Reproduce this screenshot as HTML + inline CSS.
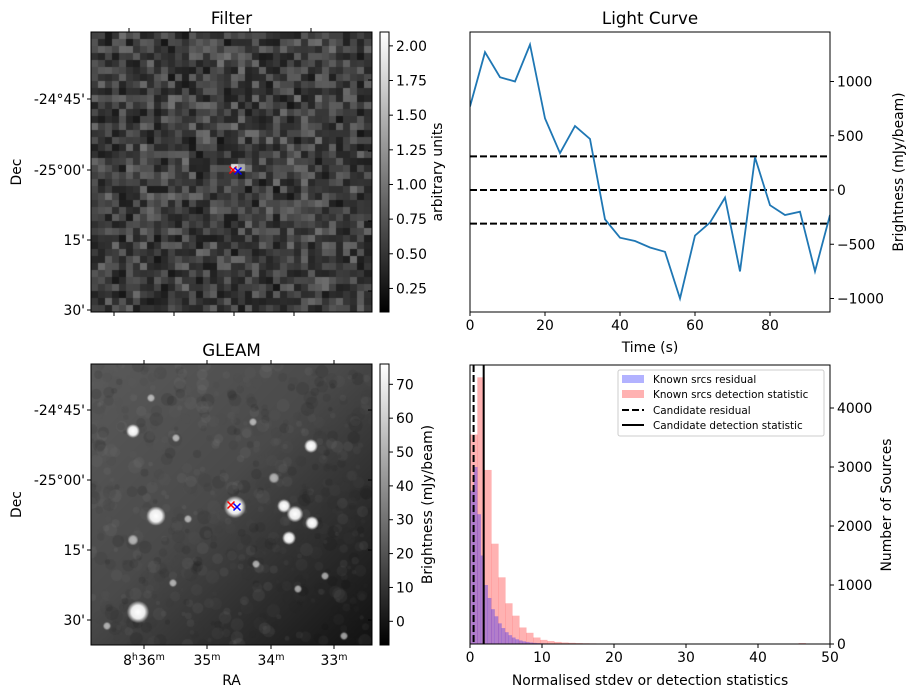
<!DOCTYPE html>
<html><head><meta charset="utf-8">
<style>
html,body{margin:0;padding:0;background:#fff;}
#wrap{position:relative;width:915px;height:699px;overflow:hidden;font-family:"DejaVu Sans","Liberation Sans",sans-serif;}
canvas{position:absolute;}
svg{position:absolute;left:0;top:0;}
text{font-family:"DejaVu Sans","Liberation Sans",sans-serif;fill:#000;}
</style></head>
<body>
<div id="wrap">
<canvas id="filterImg" width="281" height="280" style="left:91px;top:32px"></canvas>
<canvas id="gleamImg" width="281" height="281" style="left:91px;top:364px"></canvas>
<svg id="fig" width="915" height="699" xmlns="http://www.w3.org/2000/svg">
<defs>
<linearGradient id="gray" x1="0" y1="1" x2="0" y2="0"><stop offset="0" stop-color="#000"/><stop offset="1" stop-color="#fff"/></linearGradient>
</defs>
</svg>
</div>
<script>
// ---- Light curve data ----
const lcTimes=[0,4,8,12,16,20,24,28,32,36,40,44,48,52,56,60,64,68,72,76,80,84,88,92,96];
const lcFlux=[770,1270,1040,1000,1340,660,340,590,470,-270,-440,-470,-530,-570,-1000,-420,-300,-70,-750,300,-140,-230,-200,-750,-230];
const lcLevels=[310,0,-310];
const lcXTicks=[0,20,40,60,80];
const lcYTicks=[1000,500,0,-500,-1000];
// ---- Histogram data ----
const redStart=0.05, redWidth=0.97;
const redCounts=[3550,4520,2950,1700,1130,690,480,280,190,110,70,50,35,25,20,15,12,10,8,6,5,5,4,4,3,3,3,2,2,0,2,0,0,2,0,2,0,0,0,0,0,0,0,0,0,0,0,15];
const blueStart=0.05, blueWidth=0.48;
const blueCounts=[2600,3000,2200,1500,1000,780,590,470,350,270,200,150,110,80,60,45,35,25,20,15,12,10,8,6,5,4,3,3,2,2,2,1,1,1,1];
const candResidual=0.5, candDetection=1.9;
const histXTicks=[0,10,20,30,40,50];
const histYTicks=[0,1000,2000,3000,4000];
// ---- Colorbars ----
const filterCbTicks=[0.25,0.5,0.75,1.0,1.25,1.5,1.75,2.0];
const gleamCbTicks=[0,10,20,30,40,50,60,70];

const NS='http://www.w3.org/2000/svg';
const svg=document.getElementById('fig');
function el(tag,attrs,parent){const e=document.createElementNS(NS,tag);for(const k in attrs)e.setAttribute(k,attrs[k]);(parent||svg).appendChild(e);return e;}
function txt(s,x,y,attrs,parent){const t=el('text',Object.assign({x:x,y:y,'font-size':13.9},attrs||{}),parent);t.textContent=s;return t;}

// ---------- Light curve ----------
(function(){
const g=el('g',{});


const L=470,R=830,T=32,B=312;
const xs=t=>L+(t-0)/(96-0)*(R-L);
const ys=v=>190-v*0.1085;
txt('Light Curve',L+(R-L)/2,24,{'font-size':16.7,'text-anchor':'middle'},g);
lcLevels.forEach(v=>{const l=el('line',{x1:L,x2:R,y1:ys(v),y2:ys(v),stroke:'#000','stroke-width':2,'stroke-dasharray':'7,3'},g);
});
const p=lcTimes.map((t,i)=>(i?'L':'M')+xs(t).toFixed(1)+','+ys(lcFlux[i]).toFixed(1)).join('');
const path=el('path',{d:p,fill:'none',stroke:'#1f77b4','stroke-width':1.8,'clip-path':'url(#lcclip)'},g);

const cp=el('clipPath',{id:'lcclip'},svg.querySelector('defs'));el('rect',{x:L,y:T,width:R-L,height:B-T},cp);
el('rect',{x:L,y:T,width:R-L,height:B-T,fill:'none',stroke:'#000','stroke-width':1},g);
lcXTicks.forEach(t=>{el('line',{x1:xs(t),x2:xs(t),y1:B,y2:B+4,stroke:'#000'},g);txt(String(t),xs(t),B+18,{'text-anchor':'middle'},g);});
lcYTicks.forEach(v=>{el('line',{x1:R,x2:R+4,y1:ys(v),y2:ys(v),stroke:'#000'},g);txt(String(v).replace('-','\u2212'),R+7,ys(v)+5,{},g);});
const xl=txt('Time (s)',L+(R-L)/2,352,{'text-anchor':'middle'},g);
const yl=txt('Brightness (mJy/beam)',0,0,{'text-anchor':'middle',transform:'translate(903,172) rotate(-90)'},g);
})();

// ---------- Histogram ----------
(function(){
const g=el('g',{});


const L=470,R=830,T=365,B=644;
const xs=v=>L+v/50*(R-L);
const ys=c=>B-c*0.0590;
redCounts.forEach((c,i)=>{if(!c)return;const x0=xs(redStart+i*redWidth),x1=xs(redStart+(i+1)*redWidth);
const r=el('rect',{x:x0,y:ys(c),width:x1-x0+0.3,height:B-ys(c),fill:'rgba(255,0,0,0.3)'},g);
});
blueCounts.forEach((c,i)=>{if(!c)return;const x0=xs(blueStart+i*blueWidth),x1=xs(blueStart+(i+1)*blueWidth);
const r=el('rect',{x:x0,y:ys(c),width:x1-x0+0.3,height:B-ys(c),fill:'rgba(0,0,255,0.3)'},g);
});
const d=el('line',{x1:xs(candResidual),x2:xs(candResidual),y1:T,y2:B,stroke:'#000','stroke-width':2,'stroke-dasharray':'7,3'},g);

const s=el('line',{x1:xs(candDetection),x2:xs(candDetection),y1:T,y2:B,stroke:'#000','stroke-width':2},g);

el('rect',{x:L,y:T,width:R-L,height:B-T,fill:'none',stroke:'#000'},g);
histXTicks.forEach(t=>{el('line',{x1:xs(t),x2:xs(t),y1:B,y2:B+4,stroke:'#000'},g);txt(String(t),xs(t),B+18,{'text-anchor':'middle'},g);});
histYTicks.forEach(v=>{el('line',{x1:R,x2:R+4,y1:ys(v),y2:ys(v),stroke:'#000'},g);txt(String(v),R+7,ys(v)+5,{},g);});
txt('Normalised stdev or detection statistics',L+(R-L)/2,685,{'text-anchor':'middle'},g);
txt('Number of Sources',0,0,{'text-anchor':'middle',transform:'translate(891,505) rotate(-90)'},g);
// legend
const lg=el('g',{},g);
el('rect',{x:618,y:370,width:206,height:66,rx:2,fill:'rgba(255,255,255,0.8)',stroke:'#ccc'},lg);
el('rect',{x:622,y:375,width:22,height:8,fill:'rgba(0,0,255,0.3)'},lg);
el('rect',{x:622,y:390,width:22,height:8,fill:'rgba(255,0,0,0.3)'},lg);
el('line',{x1:622,x2:644,y1:410,y2:410,stroke:'#000','stroke-width':2,'stroke-dasharray':'7,3'},lg);
el('line',{x1:622,x2:644,y1:425,y2:425,stroke:'#000','stroke-width':2},lg);
[['Known srcs residual',383],['Known srcs detection statistic',398],['Candidate residual',414],['Candidate detection statistic',429]].forEach(a=>{const t=txt(a[0],653,a[1],{'font-size':10.4},lg);});
})();

// ---------- Image panels axes ----------
function imgAxes(name,title,L,T,R,B,decYs,topX,botX,showRA,cbTicks,cbMin,cbMax,cbLabel,cbLabelX,cbFmt,markers){
const g=el('g',{});


txt(title,(L+R)/2,T-8,{'font-size':16.7,'text-anchor':'middle'},g);
el('rect',{x:L,y:T,width:R-L,height:B-T,fill:'none',stroke:'#000'},g);
const decLabels=["-24\u00b045'","-25\u00b000'","15'","30'"];
decYs.forEach((y,i)=>{el('line',{x1:L-4,x2:L,y1:y,y2:y,stroke:'#000'},g);txt(decLabels[i],L-6,y+5,{'text-anchor':'end'},g);
el('line',{x1:R,x2:R-4,y1:y+(name==='filter-panel'?-19:0),y2:y+(name==='filter-panel'?-19:0),stroke:'#000'},g);});
topX.forEach(x=>el('line',{x1:x,x2:x,y1:T,y2:T-4,stroke:'#000'},g));
botX.forEach(x=>el('line',{x1:x,x2:x,y1:B,y2:B+4,stroke:'#000'},g));
txt('Dec',0,0,{'text-anchor':'middle',transform:'translate(21,'+((T+B)/2)+') rotate(-90)'},g);
if(showRA){
 const ra=[['8','h','36','m'],['','','35','m'],['','','34','m'],['','','33','m']];
 botX.forEach((x,i)=>{const t=el('text',{x:x,y:B+20,'font-size':13.9,'text-anchor':'middle'},g);
 let s='';if(ra[i][0])s+='<tspan>8</tspan><tspan dy="-5" font-size="9.5">h</tspan><tspan dy="5">36</tspan><tspan dy="-5" font-size="9.5">m</tspan>';
 else s='<tspan>'+ra[i][2]+'</tspan><tspan dy="-5" font-size="9.5">m</tspan>';t.innerHTML=s;});
 txt('RA',(L+R)/2,685,{'text-anchor':'middle'},g);
}
const cx=380,cw=9;
const cb=el('rect',{x:cx,y:T,width:cw,height:B-T,fill:'url(#gray)',stroke:'#000'},g);

const cy=v=>B-(v-cbMin)/(cbMax-cbMin)*(B-T);
cbTicks.forEach(v=>{el('line',{x1:cx+cw,x2:cx+cw+4,y1:cy(v),y2:cy(v),stroke:'#000'},g);txt(cbFmt(v),cx+cw+7,cy(v)+5,{},g);});
txt(cbLabel,0,0,{'text-anchor':'middle',transform:'translate('+cbLabelX+','+((T+B)/2)+') rotate(-90)'},g);
markers.forEach(m=>{const s=3.5;el('path',{d:`M${m[0]-s},${m[1]-s}L${m[0]+s},${m[1]+s}M${m[0]-s},${m[1]+s}L${m[0]+s},${m[1]-s}`,stroke:m[2],'stroke-width':1.5},g);});
}
imgAxes('filter-panel','Filter',91,32,372,312,[99,170,240,310],[129,190,250,311],[114,174,234,294],false,filterCbTicks,0.08,2.1,'arbitrary units',442,v=>v.toFixed(2),[[233,170,'red'],[238,171,'blue']]);
imgAxes('gleam-panel','GLEAM',91,364,372,645,[410,480,550,620],[144,207,271,334],[144,207,271,334],true,gleamCbTicks,-7,76,'Brightness (mJy/beam)',432,v=>String(v),[[231,505,'red'],[237,507,'blue']]);

// ---------- image textures ----------
let seed=12345;function rnd(){seed=(seed*1103515245+12345)&0x7fffffff;return seed/0x7fffffff;}
(function(){
const c=document.getElementById('filterImg').getContext('2d');
const n=40,cw=281/n,ch=280/n;
for(let i=0;i<n;i++)for(let j=0;j<n;j++){
 let v=0.08+0.28*Math.pow(rnd(),1.5)+0.1*rnd();
 let g=Math.round(Math.min(1,v)*255);
 c.fillStyle=`rgb(${g},${g},${g})`;c.fillRect(Math.floor(i*cw),Math.floor(j*ch),Math.ceil(cw)+1,Math.ceil(ch)+1);}
c.fillStyle='#ddd';c.fillRect(140,132,7,7);c.fillStyle='#aaa';c.fillRect(147,132,7,7);
})();
(function(){
const cv=document.getElementById('gleamImg');const c=cv.getContext('2d');
const grd=c.createLinearGradient(0,0,281,281);grd.addColorStop(0,'#5a5a5a');grd.addColorStop(0.45,'#4a4a4a');grd.addColorStop(0.8,'#262626');grd.addColorStop(1,'#111');
c.fillStyle=grd;c.fillRect(0,0,281,281);
c.globalAlpha=0.12;
for(let k=0;k<700;k++){const x=rnd()*281,y=rnd()*281,r=2+rnd()*5,g=Math.round(rnd()*150);
 c.fillStyle=`rgb(${g},${g},${g})`;c.beginPath();c.arc(x,y,r,0,7);c.fill();}
c.globalAlpha=1;
const blobs=[[133,431,5],[311,446,5],[274,478,4],[156,516,7],[235,507,8],[284,506,5],[295,514,6],[312,523,5],[289,538,5],[133,540,4],[138,612,8],[188,519,3],[256,564,3],[173,583,3],[325,576,3],[298,589,3],[344,636,3],[107,626,3],[176,438,3],[253,422,3],[151,398,3]];
blobs.forEach(b=>{const x=b[0]-91,y=b[1]-364,r=b[2];const rg=c.createRadialGradient(x,y,0,x,y,r*1.4);
 const a=r>=5?1:0.6;
 rg.addColorStop(0,`rgba(255,255,255,${a})`);rg.addColorStop(0.6,`rgba(255,255,255,${a*0.9})`);rg.addColorStop(1,'rgba(255,255,255,0)');
 c.fillStyle=rg;c.beginPath();c.arc(x,y,r*1.4,0,7);c.fill();});
})();
</script>
</body></html>
